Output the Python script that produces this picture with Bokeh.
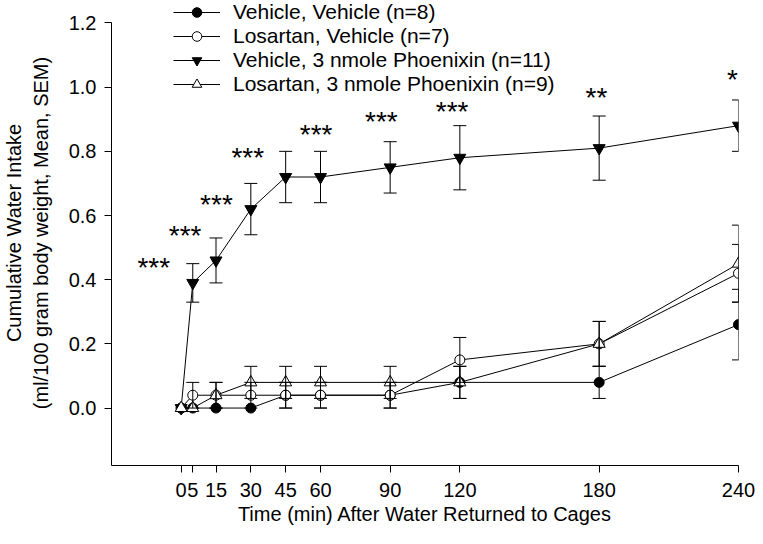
from bokeh.plotting import figure
from bokeh.models import (ColumnDataSource, Whisker, TeeHead, FixedTicker,
                          Legend, LegendItem, Range1d)
from bokeh.core.properties import value
from bokeh.embed import file_html
from bokeh.resources import INLINE

# ---------------- data ----------------
time_min = [0, 5, 15, 30, 45, 60, 90, 120, 180, 240]
x_tick_labels = ["0", "5", "15", "30", "45", "60", "90", "120", "180", "240"]
y_ticks = [0.0, 0.2, 0.4, 0.6, 0.8, 1.0, 1.2]
y_tick_labels = ["0.0", "0.2", "0.4", "0.6", "0.8", "1.0", "1.2"]

veh_veh_mean = [0.0, 0.0, 0.0, 0.0, 0.04, 0.04, 0.04, 0.08, 0.08, 0.26]
veh_veh_sem = [0.0, 0.0, 0.0, 0.0, 0.04, 0.04, 0.04, 0.05, 0.05, 0.11]

los_veh_mean = [0.0, 0.04, 0.04, 0.04, 0.04, 0.04, 0.04, 0.15, 0.20, 0.42]
los_veh_sem = [0.0, 0.04, 0.04, 0.04, 0.04, 0.04, 0.04, 0.07, 0.07, 0.09]

veh_phx_mean = [0.0, 0.39, 0.46, 0.62, 0.72, 0.72, 0.75, 0.78, 0.81, 0.88]
veh_phx_sem = [0.0, 0.06, 0.07, 0.08, 0.08, 0.08, 0.08, 0.10, 0.10, 0.08]

los_phx_mean = [0.0, 0.0, 0.04, 0.08, 0.08, 0.08, 0.08, 0.08, 0.20, 0.45]
los_phx_sem = [0.0, 0.0, 0.04, 0.05, 0.05, 0.05, 0.05, 0.05, 0.07, 0.12]

series_labels = ["Vehicle, Vehicle (n=8)", "Losartan, Vehicle (n=7)",
                 "Vehicle, 3 nmole Phoenixin (n=11)", "Losartan, 3 nmole Phoenixin (n=9)"]

sig_labels = ["***", "***", "***", "***", "***", "***", "***", "**", "*"]
sig_time = [-11.8, 1.7, 15.2, 28.7, 58.1, 86.2, 116.7, 178.8, 237.4]
sig_level = [0.456, 0.555, 0.653, 0.800, 0.871, 0.911, 0.944, 0.986, 1.044]

# ---------------- figure ----------------
FONT = "Liberation Sans"
Y0, Y1 = -0.179, 1.270
X0, X1 = -30, 240

p = figure(width=755, height=528, output_backend="svg", toolbar_location=None,
           x_range=Range1d(X0, X1), y_range=Range1d(Y0, Y1),
           min_border_left=105, min_border_right=17,
           min_border_top=0, min_border_bottom=63)
p.outline_line_color = None
p.grid.visible = False
p.background_fill_color = "white"
p.border_fill_color = "white"

for ax in (p.xaxis[0], p.yaxis[0]):
    ax.axis_line_color = "black"
    ax.axis_line_width = 1
    ax.major_tick_line_color = "black"
    ax.major_tick_in = 0
    ax.major_tick_out = 7
    ax.minor_tick_line_color = None
    ax.major_label_text_font = FONT
    ax.major_label_text_font_size = "20px"
    ax.major_label_text_color = "black"
    ax.axis_label_text_font = FONT
    ax.axis_label_text_font_size = "20px"
    ax.axis_label_text_font_style = "normal"
    ax.axis_label_text_color = "black"

xa = p.xaxis[0]
xa.ticker = FixedTicker(ticks=time_min)
xa.major_label_overrides = {t: l for t, l in zip(time_min, x_tick_labels)}
xa.bounds = (X0, X1)
xa.major_label_standoff = 10
xa.axis_label = "Time (min) After Water Returned to Cages"
xa.axis_label_standoff = 3

ya = p.yaxis[0]
ya.ticker = FixedTicker(ticks=y_ticks)
ya.major_label_overrides = {t: l for t, l in zip(y_ticks, y_tick_labels)}
ya.bounds = (Y0, 1.2)
ya.major_label_standoff = 8
ya.axis_label = "Cumulative Water Intake\n(ml/100 gram body weight, Mean, SEM)"
ya.axis_label_standoff = 14

styles = [
    dict(marker="circle", size=10, fill="black"),
    dict(marker="circle", size=10, fill="white"),
    dict(marker="inverted_triangle", size=12, fill="black"),
    dict(marker="triangle", size=12, fill="white"),
]
means = [veh_veh_mean, los_veh_mean, veh_phx_mean, los_phx_mean]
sems = [veh_veh_sem, los_veh_sem, veh_phx_sem, los_phx_sem]

items = []
for lab, m, s, st in zip(series_labels, means, sems, styles):
    src = ColumnDataSource(dict(x=time_min, y=m))
    lr = p.line("x", "y", source=src, line_color="black", line_width=1)
    sr = p.scatter("x", "y", source=src, marker=st["marker"], size=st["size"],
                   fill_color=st["fill"], line_color="black", line_width=1)
    idx = [i for i, e in enumerate(s) if e > 0]
    wsrc = ColumnDataSource(dict(
        x=[time_min[i] for i in idx],
        upper=[m[i] + s[i] for i in idx],
        lower=[m[i] - s[i] for i in idx]))
    w = Whisker(source=wsrc, base="x", upper="upper", lower="lower",
                level="overlay", line_color="black", line_width=1,
                upper_head=TeeHead(size=13, line_color="black", line_width=1),
                lower_head=TeeHead(size=13, line_color="black", line_width=1))
    p.add_layout(w)
    items.append(LegendItem(label=lab, renderers=[lr, sr]))

legend = Legend(items=items, location=(62, 369), orientation="vertical",
                glyph_width=47, glyph_height=24, label_height=24,
                label_standoff=13, spacing=0, padding=0, margin=0,
                border_line_color=None, background_fill_alpha=0,
                label_text_font=FONT, label_text_font_size="21px",
                label_text_color="black")
p.add_layout(legend)

p.text(x=sig_time, y=sig_level, text=sig_labels, text_font=value(FONT),
       text_font_size="28px", text_align="center", text_baseline="middle",
       y_offset=6, text_color="black")

open("out.html", "w").write(file_html(p, INLINE))
